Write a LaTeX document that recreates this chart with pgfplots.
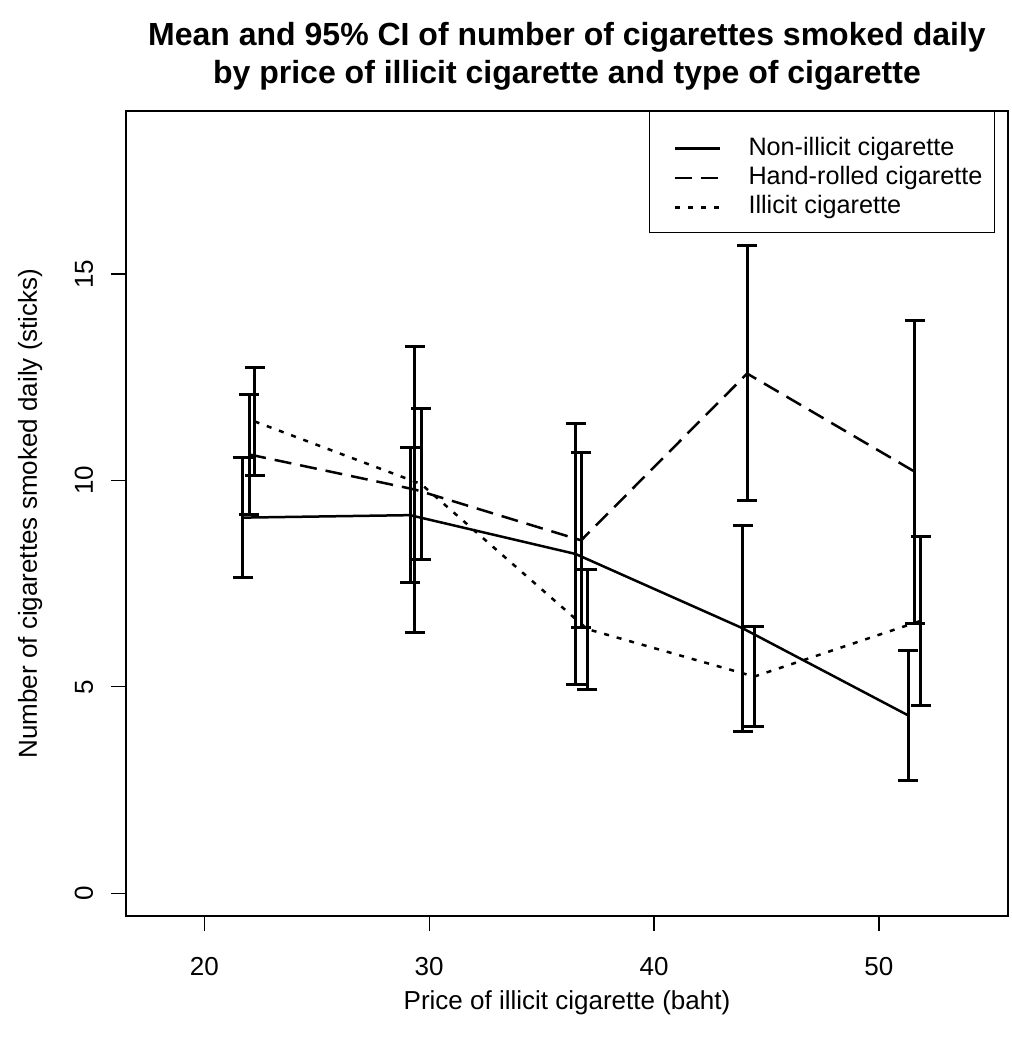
\documentclass[border=0pt]{standalone}
\usepackage{fontspec}
\setmainfont{Liberation Sans}
\usepackage{pgfplots}
\pgfplotsset{compat=1.18}
\usepackage{pgfplotstable}

\pgfplotstableread{
x y lo hi
21.71 9.10 7.64 10.56
29.15 9.16 7.53 10.79
36.51 8.22 5.06 11.38
43.94 6.42 3.93 8.91
51.30 4.31 2.74 5.88
}\nonillicit
\pgfplotstableread{
x y lo hi
22.00 10.63 9.18 12.09
29.37 9.78 6.32 13.24
36.76 8.55 6.43 10.68
44.14 12.59 9.51 15.68
51.60 10.21 6.54 13.88
}\handrolled
\pgfplotstableread{
x y lo hi
22.24 11.43 10.12 12.73
29.64 9.915 8.09 11.74
37.03 6.40 4.94 7.85
44.46 5.25 4.04 6.46
51.86 6.60 4.56 8.64
}\illicit

\pgfplotsset{
  ebar/.style={
    error bars/.cd, y dir=both, y explicit, error mark=|,
    error bar style={solid, line width=1.5pt, black},
    error mark options={solid, line width=1.5pt, black, mark size=5pt},
  },
}

\begin{document}
\begin{tikzpicture}
\path[use as bounding box] (-63pt,-65pt) rectangle (443pt,458pt);
\begin{axis}[
  scale only axis, width=441pt, height=402.5pt,
  xmin=16.52, xmax=55.74, ymin=-0.55, ymax=18.95,
  xtick={20,30,40,50}, ytick={0,5,10,15},
  tick align=outside, xtick pos=left, ytick pos=left,
  major tick length=7.5pt,
  every tick/.style={black, line width=0.6pt},
  axis line style={line width=0.6pt},
  font=\fontsize{13}{15.6}\selectfont,
  /pgf/number format/assume math mode=true,
  xticklabel style={anchor=center, yshift=-18pt},
  yticklabel style={anchor=center, xshift=-13.5pt, rotate=90},
  xlabel={Price of illicit cigarette (baht)},
  ylabel={Number of cigarettes smoked daily (sticks)},
  xlabel style={at={(axis description cs:0.5,-0.108)}, anchor=center},
  ylabel style={at={(axis description cs:-0.1088,0.5)}, anchor=center},
  title={Mean and 95\% CI of number of cigarettes smoked daily\\by price of illicit cigarette and type of cigarette},
  title style={at={(axis description cs:0.5,1)}, anchor=south, yshift=4pt, inner sep=0pt, align=center, font=\bfseries\fontsize{16}{19}\selectfont},
  legend style={at={(axis description cs:0.9853,1)}, anchor=north east, draw=black, line width=0.6pt, fill=white,
    inner xsep=6pt, inner ysep=6.5pt, row sep=-3.2pt,
    nodes={inner sep=0pt, text height=15.3pt, text depth=2.6pt},
    /tikz/every odd column/.append style={column sep=13.75pt},
    font=\fontsize{12.6}{15}\selectfont},
  legend cell align=left,
  legend image code/.code={\path (0pt,0pt); \draw[#1] (6pt,-3pt) -- (28.5pt,-3pt);},
]
\addplot[black, line width=1.25pt, solid, ebar] table[x=x, y=y, y error plus expr=\thisrow{hi}-\thisrow{y}, y error minus expr=\thisrow{y}-\thisrow{lo}] {\nonillicit};
\addlegendentry{Non-illicit cigarette}
\addplot[black, line width=1.25pt, line cap=butt, dash pattern=on 8.5pt off 4.5pt, ebar] table[x=x, y=y, y error plus expr=\thisrow{hi}-\thisrow{y}, y error minus expr=\thisrow{y}-\thisrow{lo}] {\handrolled};
\addlegendentry{Hand-rolled cigarette}
\addplot[black, line width=1.25pt, line cap=butt, dash pattern=on 2.5pt off 4pt, ebar] table[x=x, y=y, y error plus expr=\thisrow{hi}-\thisrow{y}, y error minus expr=\thisrow{y}-\thisrow{lo}] {\illicit};
\addlegendentry{Illicit cigarette}
\end{axis}
\end{tikzpicture}
\end{document}
